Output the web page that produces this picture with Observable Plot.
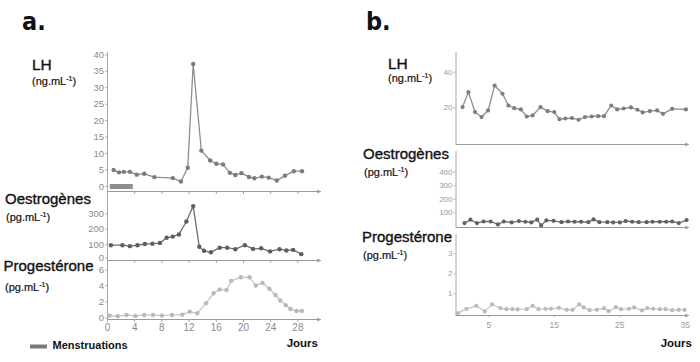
<!DOCTYPE html>
<html><head><meta charset="utf-8">
<script src="https://cdn.jsdelivr.net/npm/d3@7"></script>
<script src="https://cdn.jsdelivr.net/npm/@observablehq/plot@0.6"></script>
<style>
html,body{margin:0;padding:0;background:#fff;}
#fig{position:relative;width:700px;height:362px;overflow:hidden;background:#fff;font-family:"Liberation Sans",Arial,sans-serif;}
#fig svg{position:absolute;left:0;top:0;}
</style></head><body><div id="fig"></div>
<script>
// ---------- Panel a (cycle normal) ----------
const aLHDays = [0.9,1.7,2.4,3.3,4.3,5.4,6.9,9.6,10.8,11.8,12.6,13.8,15.1,16,17,18,18.8,19.7,20.8,21.6,22.7,23.7,24.9,26.1,27.4,28.6];
const aLH     = [5.0,4.3,4.45,4.45,3.6,3.85,2.85,2.55,1.5,5.7,37.2,10.9,7.9,6.9,6.7,4.15,3.5,4.05,2.9,2.5,3.0,2.7,1.8,3.3,4.65,4.65];
const aOestroDays = [0.5,2.2,3.3,4.4,5.5,6.6,7.7,8.7,9.6,10.5,11.6,12.6,13.5,14.2,15.2,16.5,17.6,18.8,20.2,21.4,22.6,23.9,25.3,26.3,27.3,28.5];
const aOestro     = [96,96,90,96,104,106,110,144,152,166,250,350,86,60,50,80,80,70,96,72,76,56,70,62,66,38];
const aProgDays = [0.3,1.5,2.8,4.1,5.4,6.7,8,9.5,11,12.1,13.2,14.5,15.6,16.5,17.5,18.2,19.6,20.9,21.8,22.8,23.8,24.7,25.4,26.2,26.9,27.8,28.6];
const aProg     = [0.32,0.24,0.4,0.28,0.4,0.4,0.32,0.4,0.44,0.8,0.6,1.84,3.04,3.52,3.44,4.56,5.0,5.0,4.0,4.32,3.6,2.84,2.16,1.6,1.12,0.88,0.88];
const menstruation = [0.4, 3.8];
const aXTicks = [0,4,8,12,16,20,24,28];
const aLHTicks = [0,5,10,15,20,25,30,35,40];
const aOestroTicks = [0,100,200,300];
const aProgTicks = [0,2,4,6];

// ---------- Panel b ----------
const bLHDays = [1,1.9,2.9,3.9,4.9,5.9,7.1,8,8.9,9.9,10.8,11.7,12.9,14,15,15.8,16.7,17.7,18.7,19.7,20.7,21.7,22.6,23.7,24.6,25.6,26.7,27.7,28.5,29.6,30.7,31.6,33,35.1];
const bLH     = [20.4,28.8,17.6,14.8,18.5,32.5,27.9,21.3,19.8,19.1,15.1,15.7,20.4,18.1,17.6,13.6,14.0,14.2,13.3,14.8,15.1,15.3,15.3,21.3,19.1,19.6,20.2,18.9,17.4,18.1,18.5,16.6,19.4,19.1];
const bOestroDays = [1.3,2.2,3.2,4.2,5.3,6.4,7.3,8.5,9.6,10.6,11.5,12.4,13,13.8,14.9,16.1,17.1,18.1,19.1,20.2,21,21.9,23.1,24,25,25.9,26.9,27.9,29.1,30,31.1,32.1,33,34,35.2];
const bOestro     = [25,50,25,37,37,15,37,30,40,35,30,50,8,45,42,32,37,35,35,32,52,32,32,30,30,40,35,32,32,35,35,35,37,25,47];
const bProgDays = [0.3,1.6,3.1,4.4,5.5,6.8,7.7,8.6,9.4,10.8,11.7,12.6,13.7,14.5,15.7,16.9,17.8,18.8,19.5,20.4,21.5,22.6,23.3,24.4,25.2,26.4,27.2,28.4,29.2,30.1,31.1,32,33,34,34.9];
const bProg     = [0.03,0.25,0.4,0.12,0.47,0.28,0.23,0.23,0.22,0.23,0.4,0.23,0.25,0.25,0.3,0.2,0.2,0.47,0.32,0.18,0.2,0.28,0.13,0.33,0.23,0.25,0.32,0.17,0.28,0.25,0.23,0.23,0.18,0.2,0.2];
const bXTicks = [5,15,25,35];
const bLHTicks = [20,40];
const bOestroTicks = [100,200,300,400];
const bProgTicks = [1,2,3];

const W = 700, H = 362;
const FONT = '"Liberation Sans", Arial, sans-serif';
const fig = document.getElementById("fig");
const plain = d => String(d);

function panel(o) {
  const xs = d3.scaleLinear().domain(o.xDomain).range(o.xRange);
  const ys = d3.scaleLinear().domain(o.yDomain).range(o.yRange);
  const yBase = ys.invert(o.axisY), yTop = ys.invert(o.top), xEnd = xs.invert(o.arrowEnd);
  const x0 = o.xDomain[0];
  const data = o.days.map((d, i) => ({day: d, value: o.values[i]}));
  const shift = o.shift || {};
  const yAxisOpts = {tickSize: 2, tickPadding: 1.5, fontSize: o.fontSize, color: o.textColor, stroke: "#b0b0b0", label: null, tickFormat: plain};
  const marks = [
    Plot.ruleX([0], {x: x0, y1: yTop, y2: yBase, stroke: "#a8a8a8", strokeWidth: 1}),
    Plot.arrow([0], {x1: x0, x2: xEnd, y1: yBase, y2: yBase, stroke: "#9a9a9a", strokeWidth: 1, headLength: 5, headAngle: 45}),
    Plot.axisY({...yAxisOpts, ticks: o.yTicks.filter(t => !(t in shift))}),
  ];
  for (const t of o.yTicks.filter(t => t in shift)) {
    marks.push(Plot.axisY({...yAxisOpts, ticks: [t], dy: shift[t]}));
  }
  if (o.xTicks) {
    marks.push(Plot.axisX({ticks: o.xTicks, tickSize: o.xtickSize ?? 3, tickPadding: o.xtickPadding ?? 1, fontSize: o.xFontSize ?? o.fontSize,
      color: o.textColor, stroke: "#a0a0a0", label: null, tickFormat: o.xLabels ? plain : (() => "")}));
  }
  if (o.extra) marks.push(...o.extra);
  marks.push(Plot.line(data, {x: "day", y: "value", stroke: o.line, strokeWidth: 1.3}));
  marks.push(Plot.dot(data, {x: "day", y: "value", fill: o.dot, r: o.r ?? 2.2, stroke: "none"}));
  const p = Plot.plot({
    width: W, height: H,
    marginLeft: o.xRange[0], marginRight: W - o.arrowEnd, marginTop: o.top, marginBottom: H - o.axisY,
    x: {domain: o.xDomain, range: o.xRange, ...(o.xTicks ? {} : {axis: null})},
    y: {domain: o.yDomain, range: o.yRange},
    style: {background: "transparent", fontFamily: FONT, overflow: "visible"},
    marks
  });
  fig.appendChild(p);
}

// Panel a
const aX = {xDomain: [0, 28], xRange: [107, 297.4], arrowEnd: 320, fontSize: 9.5, textColor: "#8a8a8a"};
panel({...aX, yDomain: [0, 40], yRange: [186, 54.3], top: 51.7, axisY: 191, yTicks: aLHTicks, xTicks: aXTicks, xLabels: false,
  days: aLHDays, values: aLH, line: "#8e8e8e", dot: "#7c7c7c",
  extra: [Plot.ruleY([0], {x1: menstruation[0], x2: menstruation[1], y: 0, stroke: "#7a7a7a", strokeWidth: 5, strokeOpacity: 0.85})]});
panel({...aX, yDomain: [0, 300], yRange: [259.5, 213.3], top: 192, axisY: 260, yTicks: aOestroTicks, xTicks: aXTicks, xLabels: false,
  shift: {0: -2}, days: aOestroDays, values: aOestro, line: "#6c6c6c", dot: "#5e5e5e"});
panel({...aX, yDomain: [0, 6], yRange: [317.7, 268.6], top: 262, axisY: 319, yTicks: aProgTicks, xTicks: aXTicks, xLabels: true,
  shift: {6: 1}, xFontSize: 10, days: aProgDays, values: aProg, line: "#c6c6c6", dot: "#b9b9b9"});

// Panel b
const bX = {xDomain: [0, 35], xRange: [455.5, 684.75], arrowEnd: 688, fontSize: 8, textColor: "#9a9a9a", r: 2.1};
panel({...bX, yDomain: [0, 40], yRange: [142.9, 71.7], top: 52, axisY: 144, yTicks: bLHTicks,
  days: bLHDays, values: bLH, line: "#8e8e8e", dot: "#7e7e7e"});
panel({...bX, yDomain: [0, 400], yRange: [226, 171.7], top: 151, axisY: 227, yTicks: bOestroTicks,
  days: bOestroDays, values: bOestro, line: "#6e6e6e", dot: "#626262"});
panel({...bX, yDomain: [0, 3], yRange: [313.3, 253.3], top: 234, axisY: 315, yTicks: bProgTicks, xTicks: bXTicks, xLabels: true,
  xtickSize: 2, xtickPadding: 4, xFontSize: 8.5,
  days: bProgDays, values: bProg, line: "#c6c6c6", dot: "#bababa"});

// ---------- Labels ----------
const svg = d3.select(fig).append("svg").attr("width", W).attr("height", H)
  .style("font-family", FONT);
function label(x, y, txt, size, opts = {}) {
  const t = svg.append("text").attr("x", x).attr("y", y).attr("font-size", size).attr("fill", opts.fill || "#111")
    .attr("font-weight", opts.weight || "normal").attr("text-anchor", opts.anchor || "start");
  if (opts.family) t.attr("font-family", opts.family);
  if (opts.thick) t.attr("stroke", "#111").attr("stroke-width", opts.thick);
  t.text(txt);
  return t;
}
function unit(x, y, base) {
  const t = svg.append("text").attr("x", x).attr("y", y).attr("font-size", 11).attr("fill", "#111")
    .attr("stroke", "#111").attr("stroke-width", 0.2);
  t.append("tspan").text("(" + base + ".mL");
  t.append("tspan").attr("font-size", 7).attr("dy", -4.5).text("-1");
  t.append("tspan").attr("dy", 4.5).text(")");
}
const NARROW = '"Liberation Sans Narrow", "DejaVu Sans Condensed", "Liberation Sans", sans-serif';
label(22, 30, "a.", 25, {weight: "bold", family: NARROW});
label(366, 30, "b.", 25, {weight: "bold", family: NARROW});

label(32, 69.5, "LH", 15.5, {thick: 0.35});
unit(32, 85, "ng");
label(5, 204, "Oestrogènes", 15, {thick: 0.35});
unit(6, 221, "pg");
label(3.5, 271, "Progestérone", 15, {thick: 0.35});
unit(5, 291, "pg");

label(388, 68.5, "LH", 15.5, {thick: 0.35});
unit(388, 82, "ng");
label(363, 158.5, "Oestrogènes", 15, {thick: 0.35});
unit(364, 176, "pg");
label(362, 241.5, "Progestérone", 15, {thick: 0.35});
unit(363, 259, "pg");

svg.append("line").attr("x1", 30).attr("x2", 47).attr("y1", 346.5).attr("y2", 346.5)
  .attr("stroke", "#7a7a7a").attr("stroke-width", 4);
label(52.5, 348.5, "Menstruations", 11, {weight: "bold"});
label(318, 346.5, "Jours", 11.5, {weight: "bold", anchor: "end"});
label(692, 346.5, "Jours", 11.5, {weight: "bold", anchor: "end"});
</script>
</body></html>
